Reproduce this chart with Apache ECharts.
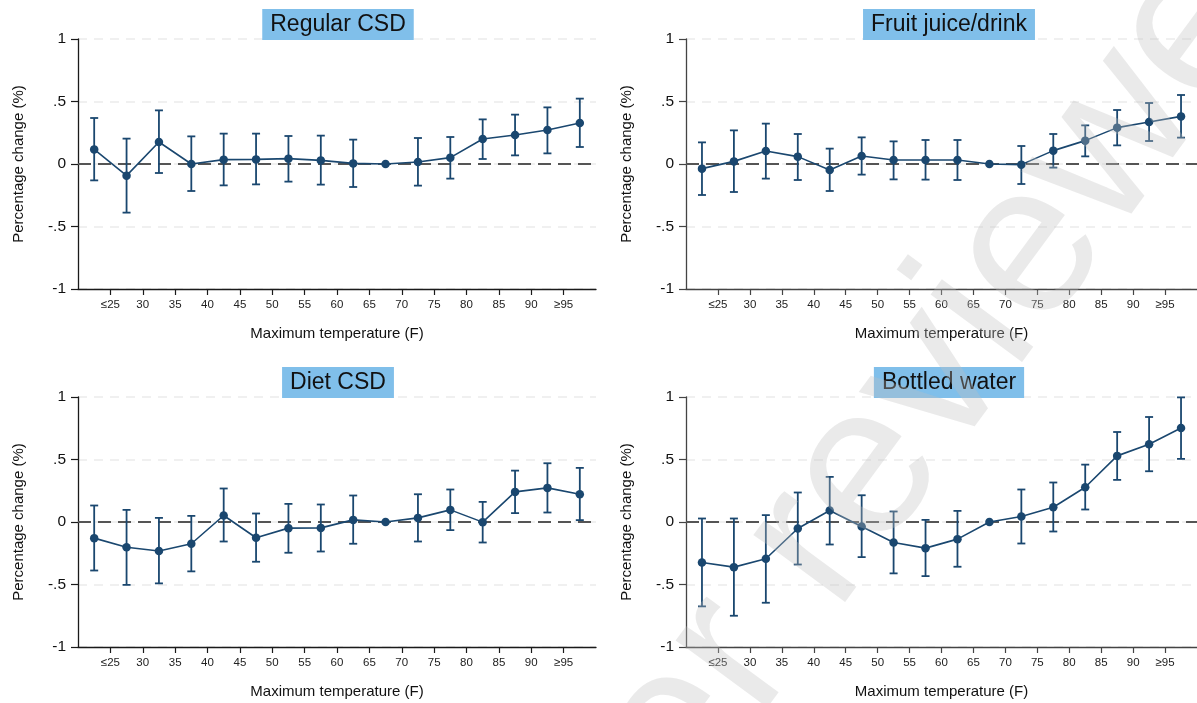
<!DOCTYPE html>
<html>
<head>
<meta charset="utf-8">
<script src="https://cdn.jsdelivr.net/npm/echarts@6/dist/echarts.min.js"></script>
<style>
html,body{margin:0;padding:0;background:#fff;}
#chart{width:1197px;height:703px;}
</style>
</head>
<body>
<div id="chart"></div>
<script>
// ---- data ----
const temps = [22.5, 27.5, 32.5, 37.5, 42.5, 47.5, 52.5, 57.5, 62.5, 67.5, 72.5, 77.5, 82.5, 87.5, 92.5, 97.5];
const xTickValues = [25, 30, 35, 40, 45, 50, 55, 60, 65, 70, 75, 80, 85, 90, 95];
const xTickLabels = ['≤25', '30', '35', '40', '45', '50', '55', '60', '65', '70', '75', '80', '85', '90', '≥95'];
const yTickValues = [-1, -0.5, 0, 0.5, 1];
const yTickLabels = ['-1', '-.5', '0', '.5', '1'];
const panelTitles = ['Regular CSD', 'Fruit juice/drink', 'Diet CSD', 'Bottled water'];
const xAxisTitle = 'Maximum temperature (F)';
const yAxisTitle = 'Percentage change (%)';
const watermarkText = 'Preprint not peer reviewed';

const regularEst = [0.117, -0.093, 0.176, 0.000, 0.035, 0.037, 0.043, 0.029, 0.005, 0, 0.016, 0.051, 0.200, 0.232, 0.272, 0.328];
const regularLo  = [-0.131, -0.389, -0.072, -0.216, -0.171, -0.163, -0.141, -0.165, -0.184, null, -0.173, -0.117, 0.040, 0.069, 0.085, 0.136];
const regularHi  = [0.368, 0.203, 0.429, 0.221, 0.243, 0.243, 0.224, 0.227, 0.195, null, 0.208, 0.216, 0.357, 0.395, 0.453, 0.523];

const fruitEst = [-0.037, 0.021, 0.104, 0.059, -0.048, 0.064, 0.032, 0.032, 0.032, 0, -0.005, 0.107, 0.187, 0.291, 0.336, 0.381];
const fruitLo  = [-0.248, -0.224, -0.117, -0.128, -0.216, -0.085, -0.123, -0.125, -0.128, null, -0.160, -0.029, 0.061, 0.149, 0.184, 0.211];
const fruitHi  = [0.173, 0.269, 0.323, 0.240, 0.123, 0.213, 0.181, 0.192, 0.192, null, 0.144, 0.240, 0.309, 0.432, 0.488, 0.552];

const dietEst = [-0.129, -0.202, -0.232, -0.174, 0.052, -0.126, -0.049, -0.047, 0.017, 0, 0.033, 0.097, -0.001, 0.241, 0.273, 0.222];
const dietLo  = [-0.388, -0.503, -0.491, -0.395, -0.156, -0.318, -0.246, -0.236, -0.174, null, -0.156, -0.065, -0.164, 0.071, 0.076, 0.015];
const dietHi  = [0.132, 0.097, 0.033, 0.049, 0.268, 0.068, 0.145, 0.140, 0.212, null, 0.222, 0.260, 0.161, 0.411, 0.470, 0.433];

const waterEst = [-0.324, -0.361, -0.294, -0.052, 0.092, -0.036, -0.164, -0.209, -0.137, 0, 0.044, 0.118, 0.278, 0.529, 0.622, 0.752];
const waterLo  = [-0.675, -0.750, -0.646, -0.340, -0.180, -0.281, -0.411, -0.433, -0.358, null, -0.172, -0.076, 0.100, 0.337, 0.406, 0.505];
const waterHi  = [0.028, 0.028, 0.055, 0.236, 0.361, 0.214, 0.084, 0.017, 0.089, null, 0.260, 0.316, 0.459, 0.720, 0.840, 0.997];

// ---- layout / style ----
const FONT = '"Liberation Sans", Arial, Helvetica, sans-serif';
const NAVY = '#1a476f';
const panels = [
  {est: regularEst, lo: regularLo, hi: regularHi, left: 78,  top: 39,  width: 518, axisColor: '#1a1a1a', titleX: 330, titleY: 9},
  {est: fruitEst,   lo: fruitLo,   hi: fruitHi,   left: 686, top: 39,  width: 517, axisColor: '#444',    titleX: 941, titleY: 9},
  {est: dietEst,    lo: dietLo,    hi: dietHi,    left: 78,  top: 397, width: 518, axisColor: '#1a1a1a', titleX: 330, titleY: 367},
  {est: waterEst,   lo: waterLo,   hi: waterHi,   left: 686, top: 397, width: 517, axisColor: '#444',    titleX: 941, titleY: 367}
];

const grids = [], xAxes = [], yAxes = [], series = [], titles = [];
panels.forEach((p, i) => {
  grids.push({left: p.left, top: p.top, width: p.width, height: 250, containLabel: false});
  titles.push({
    text: panelTitles[i], left: p.titleX, top: p.titleY, textAlign: 'center',
    backgroundColor: '#80bfea', padding: [4, 8, 3, 8],
    textStyle: {fontFamily: FONT, fontSize: 23, fontWeight: 'normal', color: '#111', lineHeight: 24}
  });
  xAxes.push({
    type: 'value', gridIndex: i, min: 20, max: 100, interval: 5,
    name: xAxisTitle, nameLocation: 'middle', nameGap: 37,
    nameTextStyle: {fontFamily: FONT, fontSize: 15, color: '#111'},
    axisLine: {show: true, onZero: false, lineStyle: {color: p.axisColor, width: 1.3}},
    axisTick: {show: true, length: 6, customValues: xTickValues, lineStyle: {color: p.axisColor, width: 1.2}},
    axisLabel: {
      show: true, margin: 10, customValues: xTickValues,
      fontFamily: FONT, fontSize: 11.5, color: '#222',
      formatter: v => { const k = xTickValues.indexOf(v); return k >= 0 ? xTickLabels[k] : ''; }
    },
    splitLine: {show: false}
  });
  yAxes.push({
    type: 'value', gridIndex: i, min: -1, max: 1, interval: 0.5,
    name: yAxisTitle, nameLocation: 'middle', nameGap: 52, nameRotate: 90,
    nameTextStyle: {fontFamily: FONT, fontSize: 15, color: '#111'},
    axisLine: {show: true, onZero: false, lineStyle: {color: p.axisColor, width: 1.3}},
    axisTick: {show: true, length: 7, lineStyle: {color: p.axisColor, width: 1.2}},
    axisLabel: {
      margin: 12, fontFamily: FONT, fontSize: 15.5, color: '#111',
      formatter: v => { const k = yTickValues.findIndex(t => Math.abs(t - v) < 1e-9); return k >= 0 ? yTickLabels[k] : ''; }
    },
    splitLine: {show: true, lineStyle: {color: '#ebebeb', width: 1.5, type: [9, 7]}}
  });
  const ciData = [];
  temps.forEach((t, k) => { if (p.lo[k] !== null && p.hi[k] !== null) ciData.push([t, p.lo[k], p.hi[k]]); });
  series.push({
    type: 'custom', xAxisIndex: i, yAxisIndex: i, data: ciData, clip: false, z: 3,
    renderItem: (params, api) => {
      const x = api.value(0);
      const a = api.coord([x, api.value(1)]);
      const b = api.coord([x, api.value(2)]);
      const hw = 4;
      const st = {stroke: NAVY, lineWidth: 1.8};
      return {type: 'group', children: [
        {type: 'line', shape: {x1: a[0], y1: a[1], x2: b[0], y2: b[1]}, style: st},
        {type: 'line', shape: {x1: a[0] - hw, y1: a[1], x2: a[0] + hw, y2: a[1]}, style: st},
        {type: 'line', shape: {x1: b[0] - hw, y1: b[1], x2: b[0] + hw, y2: b[1]}, style: st}
      ]};
    }
  });
  series.push({
    type: 'line', xAxisIndex: i, yAxisIndex: i, z: 4,
    data: temps.map((t, k) => [t, p.est[k]]),
    symbol: 'circle', symbolSize: 8.5, showSymbol: true,
    lineStyle: {color: NAVY, width: 1.6},
    itemStyle: {color: NAVY},
    markLine: {
      silent: true, symbol: 'none', z: 2,
      label: {show: false},
      lineStyle: {color: '#555', width: 1.8, type: [13, 7]},
      data: [{yAxis: 0}]
    }
  });
});

const chart = echarts.init(document.getElementById('chart'), null, {renderer: 'canvas'});
chart.setOption({
  backgroundColor: '#ffffff',
  animation: false,
  title: titles,
  grid: grids,
  xAxis: xAxes,
  yAxis: yAxes,
  series: series,
  graphic: [{
    type: 'text', x: 551, y: 901, rotation: 53.6 * Math.PI / 180, z: 100, silent: true,
    style: {
      text: watermarkText, fontFamily: FONT, fontSize: 215,
      fill: 'rgba(190,190,190,0.33)', align: 'center', verticalAlign: 'middle'
    }
  }]
});
</script>
</body>
</html>
